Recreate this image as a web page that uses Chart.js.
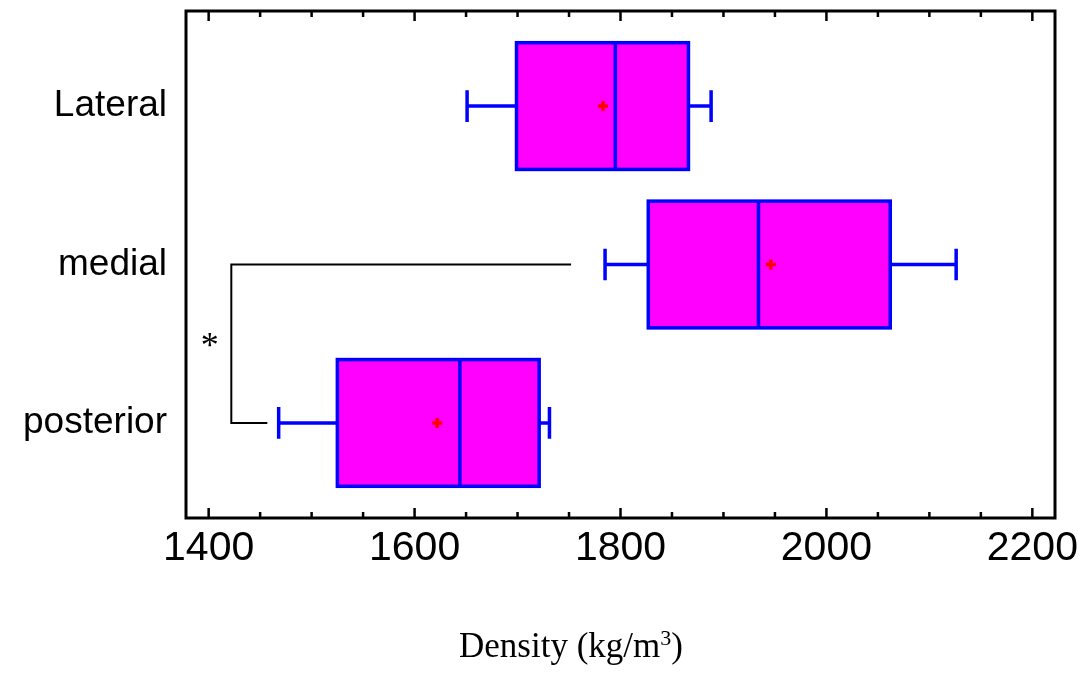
<!DOCTYPE html>
<html>
<head>
<meta charset="utf-8">
<script src="https://cdn.jsdelivr.net/npm/chart.js@4"></script>
<style>
  html, body { margin: 0; padding: 0; background: #fff; }
</style>
</head>
<body>
<canvas id="boxChart" width="1079" height="673"></canvas>
<script>
let groups = ["Lateral", "medial", "posterior"];
let whiskerLow = [1651, 1785, 1468];
let q1 = [1699, 1827, 1525];
let medians = [1795, 1934, 1644];
let q3 = [1866, 2062, 1721];
let whiskerHigh = [1888, 2126, 1731];
let means = [1783, 1946, 1622];
let xTicks = [1400, 1600, 1800, 2000, 2200];
// significance bracket between medial and posterior
let sigX = 1422;
let sigEnds = [1752, 1457];

let boxHalf = 0.4;
let capHalf = 0.1;

const boxPlugin = {
  id: "boxes",
  beforeDatasetsDraw(chart) {
    const {ctx, scales: {x, y}} = chart;
    ctx.save();
    ctx.lineWidth = 3.5;
    ctx.strokeStyle = "#0000ff";
    groups.forEach((g, i) => {
      let yc = y.getPixelForValue(i + 1);
      let yt = y.getPixelForValue(i + 1 - boxHalf);
      let yb = y.getPixelForValue(i + 1 + boxHalf);
      let ct = y.getPixelForValue(i + 1 - capHalf);
      let cb = y.getPixelForValue(i + 1 + capHalf);
      let xl = x.getPixelForValue(whiskerLow[i]);
      let x1 = x.getPixelForValue(q1[i]);
      let xm = x.getPixelForValue(medians[i]);
      let x3 = x.getPixelForValue(q3[i]);
      let xh = x.getPixelForValue(whiskerHigh[i]);
      ctx.beginPath();
      ctx.moveTo(xl, yc); ctx.lineTo(x1, yc);
      ctx.moveTo(x3, yc); ctx.lineTo(xh, yc);
      ctx.moveTo(xl, ct); ctx.lineTo(xl, cb);
      ctx.moveTo(xh, ct); ctx.lineTo(xh, cb);
      ctx.stroke();
      ctx.fillStyle = "#ff00ff";
      ctx.fillRect(x1, yt, x3 - x1, yb - yt);
      ctx.strokeRect(x1, yt, x3 - x1, yb - yt);
      ctx.beginPath();
      ctx.moveTo(xm, yt); ctx.lineTo(xm, yb);
      ctx.stroke();
    });
    ctx.restore();
  },
  afterDraw(chart) {
    const {ctx, chartArea: a, scales: {x, y}} = chart;
    ctx.save();
    // frame
    ctx.strokeStyle = "#000";
    ctx.lineWidth = 3;
    ctx.strokeRect(a.left, a.top, a.right - a.left, a.bottom - a.top);
    // inward ticks, top and bottom
    ctx.lineWidth = 2.5;
    ctx.beginPath();
    for (let v = 1400; v <= 2200; v += 50) {
      let px = x.getPixelForValue(v);
      let len = v % 200 === 0 ? 10 : 6;
      ctx.moveTo(px, a.bottom); ctx.lineTo(px, a.bottom - len);
      ctx.moveTo(px, a.top); ctx.lineTo(px, a.top + len);
    }
    ctx.stroke();
    // significance bracket
    ctx.lineWidth = 2;
    let bx = x.getPixelForValue(sigX);
    let y2 = y.getPixelForValue(2);
    let y3 = y.getPixelForValue(3);
    ctx.beginPath();
    ctx.moveTo(x.getPixelForValue(sigEnds[0]), y2);
    ctx.lineTo(bx, y2);
    ctx.lineTo(bx, y3);
    ctx.lineTo(x.getPixelForValue(sigEnds[1]), y3);
    ctx.stroke();
    ctx.fillStyle = "#000";
    ctx.font = '36px "Liberation Serif"';
    ctx.textAlign = "center";
    ctx.textBaseline = "alphabetic";
    ctx.fillText("*", x.getPixelForValue(1401), (y2 + y3) / 2 + 13);
    // axis title with superscript
    let t1 = "Density (kg/m", t2 = "3", t3 = ")";
    ctx.font = '35px "Liberation Serif"';
    let w1 = ctx.measureText(t1).width, w3 = ctx.measureText(t3).width;
    ctx.font = '22px "Liberation Serif"';
    let w2 = ctx.measureText(t2).width;
    let tx = 571 - (w1 + w2 + w3) / 2, ty = 657;
    ctx.textAlign = "left";
    ctx.font = '35px "Liberation Serif"';
    ctx.fillText(t1, tx, ty);
    ctx.font = '22px "Liberation Serif"';
    ctx.fillText(t2, tx + w1, ty - 12);
    ctx.font = '35px "Liberation Serif"';
    ctx.fillText(t3, tx + w1 + w2, ty);
    ctx.restore();
  }
};

new Chart("boxChart", {
  type: "scatter",
  data: {
    datasets: [{
      data: means.map((m, i) => ({x: m, y: i + 1})),
      pointStyle: "cross",
      radius: 5,
      borderWidth: 3.5,
      borderColor: "#ff0000",
      backgroundColor: "#ff0000"
    }]
  },
  options: {
    responsive: false,
    animation: false,
    layout: {padding: {left: 0, top: 11, right: 24, bottom: 0}},
    plugins: {legend: {display: false}, tooltip: {enabled: false}},
    scales: {
      x: {
        type: "linear",
        min: 1378,
        max: 2222,
        afterBuildTicks: s => { s.ticks = xTicks.map(v => ({value: v})); },
        afterFit: s => { s.height = 155; s.paddingLeft = 0; s.paddingRight = 0; },
        grid: {display: false, drawTicks: false},
        border: {display: false},
        ticks: {
          color: "#000",
          padding: 6,
          maxRotation: 0,
          callback: v => String(v),
          font: {family: '"Liberation Sans", Arial', size: 41}
        }
      },
      y: {
        type: "linear",
        reverse: true,
        min: 0.4,
        max: 3.6,
        afterBuildTicks: s => { s.ticks = groups.map((g, i) => ({value: i + 1})); },
        afterFit: s => { s.width = 186; s.paddingTop = 0; s.paddingBottom = 0; },
        grid: {display: false, drawTicks: false},
        border: {display: false},
        ticks: {
          color: "#000",
          padding: 19,
          callback: v => groups[v - 1],
          font: {family: '"Liberation Sans", Arial', size: 37}
        }
      }
    }
  },
  plugins: [boxPlugin]
});
</script>
</body>
</html>
